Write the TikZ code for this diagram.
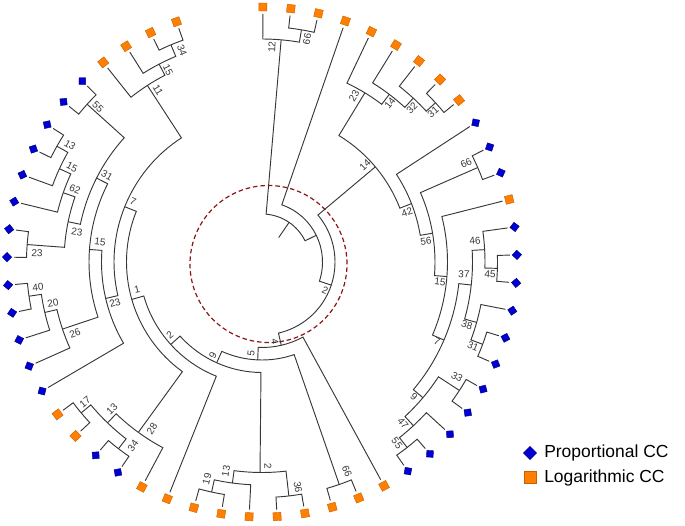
\documentclass[tikz,border=0pt]{standalone}
\usepackage{fontspec}
\setmainfont{Liberation Sans}
\definecolor{orng}{RGB}{255,128,0}
\definecolor{orngd}{RGB}{200,95,0}
\definecolor{blu}{RGB}{0,0,210}
\definecolor{blud}{RGB}{0,0,120}
\definecolor{dred}{RGB}{140,20,20}
\definecolor{lin}{RGB}{55,55,55}
\newcommand\tp[1]{(0.2+6.3*(#1-1))}
\newcommand\cl[5]{\draw[br] ({90-(#2)}:{248-12.5*(#3)}) -- ({90-(#2)}:{248-12.5*(#1)}) arc[start angle={90-(#2)}, end angle={90-(#4)}, radius={248-12.5*(#1)}] -- ({90-(#4)}:{248-12.5*(#5)});}
\newcommand\lb[4]{%
 \pgfmathsetmacro\myang{atan2(262-(#3),(#2)-262)}%
 \pgfmathsetmacro\myang{\myang>90 ? \myang-180 : (\myang<=-90 ? \myang+180 : \myang)}%
 \node[lab, rotate=\myang] (#1) at ({(#2)-262},{262-(#3)}) {#4};}
\begin{document}
\begin{tikzpicture}[x=0.75pt,y=0.75pt,
  br/.style={draw=lin, line width=0.7pt},
  lab/.style={font=\fontsize{7.5}{8}\selectfont, text=lin, inner sep=0pt},
  osq/.style={draw=orngd, fill=orng, minimum size=6pt, inner sep=0pt, line width=0.3pt},
  bdm/.style={draw=blud, fill=blu, minimum size=5pt, inner sep=0pt, line width=0.3pt}]
\useasboundingbox (-262,-263) rectangle (423,262);
% node bearings
\pgfmathsetmacro\bTsixsix{(\tp{2}+\tp{3})/2}
\pgfmathsetmacro\bTtwelve{(\tp{1}+\bTsixsix)/2}
\pgfmathsetmacro\bTthreeone{(\tp{8}+\tp{9})/2}
\pgfmathsetmacro\bTthreetwo{(\tp{7}+\bTthreeone)/2}
\pgfmathsetmacro\bTfourteen{(\tp{6}+\bTthreetwo)/2}
\pgfmathsetmacro\bTtwentythree{(\tp{5}+\bTfourteen)/2}
\pgfmathsetmacro\bRsixsix{(\tp{11}+\tp{12})/2}
\pgfmathsetmacro\bRfourfive{(\tp{15}+\tp{16})/2}
\pgfmathsetmacro\bRfoursix{(\tp{14}+\bRfourfive)/2}
\pgfmathsetmacro\bRthreeone{(\tp{18}+\tp{19})/2}
\pgfmathsetmacro\bRthreeeight{(\tp{17}+\bRthreeone)/2}
\pgfmathsetmacro\bRthreeseven{(\bRfoursix+\bRthreeeight)/2}
\pgfmathsetmacro\bRthreethree{(\tp{20}+\tp{21})/2}
\pgfmathsetmacro\bRfivefive{(\tp{23}+\tp{24})/2}
\pgfmathsetmacro\bRfourseven{(\tp{22}+\bRfivefive)/2}
\pgfmathsetmacro\bRnine{(\bRthreethree+\bRfourseven)/2}
\pgfmathsetmacro\bRseven{(\bRthreeseven+\bRnine)/2}
\pgfmathsetmacro\bRfifteen{(\tp{13}+\bRseven)/2}
\pgfmathsetmacro\bRfivesix{(\bRsixsix+\bRfifteen)/2}
\pgfmathsetmacro\bRfourtwo{(\tp{10}+\bRfivesix)/2}
\pgfmathsetmacro\bD{(\bTtwentythree+\bRfourtwo)/2}
\pgfmathsetmacro\bBsixsix{(\tp{26}+\tp{27})/2}
\pgfmathsetmacro\bBthreesix{(\tp{28}+\tp{29})/2}
\pgfmathsetmacro\bBonenine{(\tp{31}+\tp{32})/2}
\pgfmathsetmacro\bBonethree{(\tp{30}+\bBonenine)/2}
\pgfmathsetmacro\bBtwo{(\bBthreesix+\bBonethree)/2}
\pgfmathsetmacro\bLthreefour{(\tp{35}+\tp{36})/2}
\pgfmathsetmacro\bLoneseven{(\tp{37}+\tp{38})/2}
\pgfmathsetmacro\bLonethree{(\bLthreefour+\bLoneseven)/2}
\pgfmathsetmacro\bLtwoeight{(\tp{34}+\bLonethree)/2}
\pgfmathsetmacro\bLfourzero{(\tp{42}+\tp{43})/2}
\pgfmathsetmacro\bLtwozero{(\tp{41}+\bLfourzero)/2}
\pgfmathsetmacro\bLtwosix{(\tp{40}+\bLtwozero)/2}
\pgfmathsetmacro\bLtwothreeA{(\tp{44}+\tp{45})/2}
\pgfmathsetmacro\bLonethreeB{(\tp{48}+\tp{49})/2}
\pgfmathsetmacro\bLonefiveA{(\tp{47}+\bLonethreeB)/2}
\pgfmathsetmacro\bLsixtwo{(\tp{46}+\bLonefiveA)/2}
\pgfmathsetmacro\bLtwothreeB{(\bLtwothreeA+\bLsixtwo)/2}
\pgfmathsetmacro\bLfivefive{(\tp{50}+\tp{51})/2}
\pgfmathsetmacro\bLthreeone{(\bLtwothreeB+\bLfivefive)/2}
\pgfmathsetmacro\bLonefiveB{(\bLtwosix+\bLthreeone)/2}
\pgfmathsetmacro\bLtwothreeC{(\tp{39}+\bLonefiveB)/2}
\pgfmathsetmacro\bUthreefour{(\tp{54}+\tp{55})/2}
\pgfmathsetmacro\bUonefive{(\tp{53}+\bUthreefour)/2}
\pgfmathsetmacro\bUoneone{(\tp{52}+\bUonefive)/2}
\pgfmathsetmacro\bLseven{(\bLtwothreeC+\bUoneone)/2}
\pgfmathsetmacro\bLone{(\bLtwoeight+\bLseven)/2}
\pgfmathsetmacro\bLtwo{(\tp{33}+\bLone)/2}
\pgfmathsetmacro\bNine{(\bBtwo+\bLtwo)/2}
\pgfmathsetmacro\bFive{(\bBsixsix+\bNine)/2}
\pgfmathsetmacro\bE{(\tp{25}+\bFive)/2}
\pgfmathsetmacro\bC{(\bD+\bE)/2}
\pgfmathsetmacro\bB{(\tp{4}+\bC)/2}
\pgfmathsetmacro\bRoot{(\bTtwelve+\bB)/2}
% dashed circle
\draw[dred, line width=0.9pt, dash pattern=on 3.4pt off 2.2pt] (6.5,-2) circle[radius=78.5];
% clades
\cl{1}{\tp{2}}{0}{\tp{3}}{0}
\cl{2}{\tp{1}}{0}{\bTsixsix}{1}
\cl{1}{\tp{8}}{0}{\tp{9}}{0}
\cl{2}{\tp{7}}{0}{\bTthreeone}{1}
\cl{3}{\tp{6}}{0}{\bTthreetwo}{2}
\cl{4}{\tp{5}}{0}{\bTfourteen}{3}
\cl{1}{\tp{11}}{0}{\tp{12}}{0}
\cl{1}{\tp{15}}{0}{\tp{16}}{0}
\cl{2}{\tp{14}}{0}{\bRfourfive}{1}
\cl{1}{\tp{18}}{0}{\tp{19}}{0}
\cl{2}{\tp{17}}{0}{\bRthreeone}{1}
\cl{3}{\bRfoursix}{2}{\bRthreeeight}{2}
\cl{1}{\tp{20}}{0}{\tp{21}}{0}
\cl{1}{\tp{23}}{0}{\tp{24}}{0}
\cl{2}{\tp{22}}{0}{\bRfivefive}{1}
\cl{3}{\bRthreethree}{1}{\bRfourseven}{2}
\cl{4}{\bRthreeseven}{3}{\bRnine}{3}
\cl{5}{\tp{13}}{0}{\bRseven}{4}
\cl{6}{\bRsixsix}{1}{\bRfifteen}{5}
\cl{7}{\tp{10}}{0}{\bRfivesix}{6}
\cl{8}{\bTtwentythree}{4}{\bRfourtwo}{7}
\cl{1}{\tp{26}}{0}{\tp{27}}{0}
\cl{1}{\tp{28}}{0}{\tp{29}}{0}
\cl{1}{\tp{31}}{0}{\tp{32}}{0}
\cl{2}{\tp{30}}{0}{\bBonenine}{1}
\cl{3}{\bBthreesix}{1}{\bBonethree}{2}
\cl{1}{\tp{35}}{0}{\tp{36}}{0}
\cl{1}{\tp{37}}{0}{\tp{38}}{0}
\cl{2}{\bLthreefour}{1}{\bLoneseven}{1}
\cl{3}{\tp{34}}{0}{\bLonethree}{2}
\cl{1}{\tp{42}}{0}{\tp{43}}{0}
\cl{2}{\tp{41}}{0}{\bLfourzero}{1}
\cl{3}{\tp{40}}{0}{\bLtwozero}{2}
\cl{1}{\tp{44}}{0}{\tp{45}}{0}
\cl{1}{\tp{48}}{0}{\tp{49}}{0}
\cl{2}{\tp{47}}{0}{\bLonethreeB}{1}
\cl{3}{\tp{46}}{0}{\bLonefiveA}{2}
\cl{4}{\bLtwothreeA}{1}{\bLsixtwo}{3}
\cl{1}{\tp{50}}{0}{\tp{51}}{0}
\cl{5}{\bLtwothreeB}{4}{\bLfivefive}{1}
\cl{6}{\bLtwosix}{3}{\bLthreeone}{5}
\cl{7}{\tp{39}}{0}{\bLonefiveB}{6}
\cl{1}{\tp{54}}{0}{\tp{55}}{0}
\cl{2}{\tp{53}}{0}{\bUthreefour}{1}
\cl{3}{\tp{52}}{0}{\bUonefive}{2}
\cl{8}{\bLtwothreeC}{7}{\bUoneone}{3}
\cl{9}{\bLtwoeight}{3}{\bLseven}{8}
\cl{10}{\tp{33}}{0}{\bLone}{9}
\cl{11}{\bBtwo}{3}{\bLtwo}{10}
\cl{12}{\bBsixsix}{1}{\bNine}{11}
\cl{13}{\tp{25}}{0}{\bFive}{12}
\cl{14}{\bD}{8}{\bE}{13}
\cl{15}{\tp{4}}{0}{\bC}{14}
\cl{16}{\bTtwelve}{2}{\bB}{15}
\draw[br] ({90-\bRoot}:29.5) -- ({90-\bRoot}:48);
% tips
\foreach \i in {1,...,9,13,25,26,27,28,29,30,31,32,33,34,37,38,52,53,54,55}{
  \pgfmathsetmacro\bb{0.2+6.3*(\i-1)}
  \node[osq, rotate={-\bb}] (t\i) at ({90-\bb}:255) {};}
\foreach \i in {10,11,12,14,15,16,17,18,19,20,21,22,23,24,35,36,39,40,41,42,43,44,45,46,47,48,49,50,51}{
  \pgfmathsetmacro\bb{0.2+6.3*(\i-1)}
  \node[bdm, rotate={45-\bb}] (t\i) at ({90-\bb}:255) {};}
% labels
\lb{lA}{272}{47}{12}
\lb{lB}{307}{39}{66}
\lb{lC}{354}{96}{23}
\lb{lD}{390}{103}{14}
\lb{lE}{412}{108}{32}
\lb{lF}{433}{112}{31}
\lb{lG}{365}{165}{14}
\lb{lH}{325}{290}{2}
\lb{lI}{407}{212}{42}
\lb{lJ}{466}{163}{66}
\lb{lK}{426}{241}{56}
\lb{lL}{440}{282}{15}
\lb{lM}{475}{241}{46}
\lb{lN}{490}{274}{45}
\lb{lO}{464}{274}{37}
\lb{lP}{467}{325}{38}
\lb{lQ}{473}{346}{31}
\lb{lR}{437}{342}{7}
\lb{lS}{457}{377}{33}
\lb{lT}{414}{397}{9}
\lb{lU}{403}{423}{47}
\lb{lV}{397}{443}{55}
\lb{lW}{275}{342}{4}
\lb{lX}{251}{353}{5}
\lb{lY}{213}{355}{9}
\lb{lZ}{170}{335}{2}
\lb{la}{137}{290}{1}
\lb{lb}{133}{202}{7}
\lb{lc}{268}{466}{2}
\lb{ld}{226}{471}{13}
\lb{le}{207}{479}{19}
\lb{lf}{298}{487}{36}
\lb{lg}{347}{471}{66}
\lb{lh}{152}{429}{28}
\lb{li}{85}{402}{17}
\lb{lj}{112}{409}{13}
\lb{lk}{133}{446}{34}
\lb{ll}{70}{145}{13}
\lb{lm}{72}{167}{15}
\lb{ln}{75}{189}{62}
\lb{lo}{107}{175}{31}
\lb{lp}{77}{232}{23}
\lb{lq}{37}{253}{23}
\lb{lr}{100}{242}{15}
\lb{ls}{115}{303}{23}
\lb{lt}{38}{287}{40}
\lb{lu}{53}{303}{20}
\lb{lv}{75}{333}{26}
\lb{lw}{98}{107}{55}
\lb{lx}{158}{90}{11}
\lb{ly}{168}{70}{15}
\lb{lz}{182}{50}{34}
% legend
\node[bdm, minimum size=7pt, rotate=45] (legb) at (268,-191) {};
\node[osq, minimum size=9pt] (lego) at (268,-215.5) {};
\node[anchor=west, font=\fontsize{13.1}{14}\selectfont, inner sep=0pt] (legbt) at (282,-191) {Proportional CC};
\node[anchor=west, font=\fontsize{13.1}{14}\selectfont, inner sep=0pt] (legot) at (282,-215.5) {Logarithmic CC};
\end{tikzpicture}
\end{document}
